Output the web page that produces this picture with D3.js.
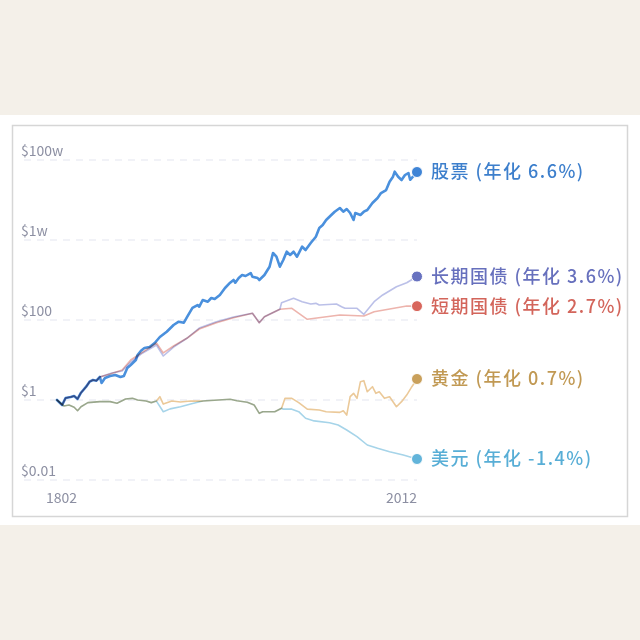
<!DOCTYPE html>
<html><head><meta charset="utf-8">
<script src="https://cdn.jsdelivr.net/npm/d3@7"></script>
<style>html,body{margin:0;padding:0;background:#f4f0e9;}svg{display:block}</style>
</head><body><svg id="c" width="640" height="640"></svg>
<script>
// ---- data ----
const stockYears = [1802,1805,1807,1810,1812,1814,1816,1819,1821,1823,1825,1827,1828,1830,1833,1836,1839,1841,1843,1845,1848,1849,1851,1853,1856,1859,1862,1866,1870,1873,1876,1878,1881,1884,1885,1887,1890,1892,1894,1897,1900,1903,1905,1906,1908,1910,1912,1915,1916,1919,1920,1923,1926,1928,1930,1932,1934,1936,1938,1940,1942,1945,1947,1950,1953,1955,1957,1959,1962,1964,1967,1969,1971,1973,1975,1976,1979,1981,1983,1986,1989,1991,1994,1996,1998,1999,2001,2003,2005,2007,2008,2012];
const stockValues = [1,0.75,1.12,1.19,1.26,1.06,1.52,2.15,2.87,3.16,3.04,3.76,2.66,3.55,3.98,4.22,3.76,3.98,6.31,7.5,10,13.3,17.1,20,21.1,26.6,37.6,51,75,90.7,85.6,121,200,237,215,316,287,355,335,422,631,856,1000,856,1122,1334,1259,1496,1209,1122,1000,1334,2150,4732,3824,2150,3162,5100,4217,5100,3824,6800,5623,8414,12090,19950,23710,31620,42170,51000,63100,51000,59570,47300,31620,47300,42170,51000,56230,84140,112200,149600,177800,286800,382400,510000,382400,316200,421700,473000,320000,501000];

const bondYears = [1802,1805,1807,1810,1812,1814,1816,1819,1821,1823,1825,1827,1834,1840,1845,1852,1860,1864,1870,1878,1885,1895,1905,1916,1920,1923,1932,1933,1940,1945,1950,1953,1955,1965,1968,1970,1977,1981,1987,1992,2000,2006,2012];
const bondValues = [1,0.75,1.12,1.19,1.26,1.06,1.52,2.15,2.87,3.16,3.04,3.76,4.73,5.31,8.9,15,23.7,12.6,21.1,35.5,63,90.7,119,147,85.6,121,185,271,349,287,251,261,237,251,215,196,196,139,287,422,680,856,1224];

const billYears = [1802,1805,1807,1810,1812,1814,1816,1819,1821,1823,1825,1827,1833,1840,1845,1852,1860,1864,1870,1878,1885,1895,1905,1916,1920,1923,1932,1939,1948,1967,1981,1987,2006,2012];
const billValues = [1,0.75,1.12,1.19,1.26,1.06,1.52,2.15,2.87,3.16,3.04,3.76,4.47,5.62,10,15.8,26.6,15,22.4,35.5,59.6,85.6,114,147,85.6,121,185,196,104,133,126,161,224,222];

const goldYears = [1802,1806,1809,1812,1814,1816,1820,1827,1833,1837,1842,1846,1849,1854,1857,1860,1862,1864,1869,1874,1880,1887,1903,1907,1913,1917,1920,1922,1929,1933,1935,1939,1943,1948,1955,1959,1967,1969,1971,1973,1975,1977,1979,1981,1983,1986,1988,1990,1993,1996,2000,2003,2006,2009,2012];
const goldValues = [1,0.71,0.75,0.66,0.54,0.68,0.86,0.91,0.91,0.83,1.06,1.1,1.0,0.94,0.86,0.94,1.21,0.79,0.94,0.89,0.94,0.94,1.04,0.96,0.88,0.75,0.465,0.51,0.51,0.62,1.1,1.1,0.86,0.59,0.56,0.51,0.49,0.54,0.42,1.21,1.47,1.1,2.87,3.04,1.61,2.15,1.47,1.61,1.1,1.21,0.68,0.91,1.33,2.15,3.35];

const dollarYears = [1802,1806,1809,1812,1814,1816,1820,1827,1833,1837,1842,1846,1849,1854,1857,1860,1864,1868,1874,1880,1887,1903,1907,1913,1917,1920,1922,1929,1933,1934,1939,1943,1947,1952,1961,1966,1971,1977,1983,1989,1996,2004,2012];
const dollarValues = [1,0.71,0.75,0.66,0.54,0.68,0.86,0.91,0.91,0.83,1.06,1.1,1.0,0.94,0.86,0.94,0.51,0.60,0.68,0.79,0.94,1.04,0.96,0.88,0.75,0.465,0.51,0.51,0.62,0.59,0.59,0.51,0.35,0.30,0.27,0.237,0.178,0.121,0.075,0.062,0.051,0.042,0.0335];

const seriesNames = ["股票","长期国债","短期国债","黄金","美元"];
const seriesRates = ["6.6%","3.6%","2.7%","0.7%","-1.4%"];
const yTickValues = [0.01,1,100,10000,1000000];
const yTickLabels = ["$0.01","$1","$100","$1w","$100w"];
const xTickYears = [1802,2012];

// ---- styles ----
const lineColors = ["#4a90dd","#aab0e2","#e9a198","#ebc999","#a6d4e9"];
const dotColors  = ["#3f84d6","#6872c0","#d8665c","#c9a05b","#62b4da"];
const textColors = ["#3d7fcc","#6770bd","#d3655b","#c19953","#58aed6"];
const lineWidths = [2.6,1.6,1.6,1.6,1.6];
const lineOpacity = [1,0.8,0.8,1,1];

const svg = d3.select("#c");
svg.append("rect").attr("x",0).attr("y",115).attr("width",640).attr("height",410).attr("fill","#ffffff");
svg.append("rect").attr("x",12.5).attr("y",125.5).attr("width",615).attr("height",391)
  .attr("fill","#ffffff").attr("stroke","#d6d6d6").attr("stroke-width",1.5);

const x = d3.scaleLinear().domain([1802,2012]).range([57,417]);
const y = d3.scaleLog().domain([0.01,1e6]).range([480,160]);

// grid
svg.append("g").selectAll("line").data(yTickValues).join("line")
  .attr("x1",24).attr("x2",417).attr("y1",d=>y(d)).attr("y2",d=>y(d))
  .attr("stroke","#e3e5ef").attr("stroke-width",1.2).attr("stroke-dasharray","7,6");

const tickFont = "'Noto Sans CJK SC','Noto Sans',sans-serif";
svg.append("g").selectAll("text").data(yTickValues).join("text")
  .attr("x",21).attr("y",d=>y(d)-4).attr("fill","#8c8fa2")
  .style("font-family",tickFont).style("font-size","14px")
  .text((d,i)=>yTickLabels[i]);

svg.append("g").selectAll("text").data(xTickYears).join("text")
  .attr("x",(d,i)=> i===0 ? x(d)-11 : x(d))
  .attr("text-anchor",(d,i)=> i===0 ? "start" : "end")
  .attr("y",503).attr("fill","#8c8fa2")
  .style("font-family",tickFont).style("font-size","14px")
  .text(d=>d);

const series = [
  {years:stockYears, values:stockValues},
  {years:bondYears, values:bondValues},
  {years:billYears, values:billValues},
  {years:goldYears, values:goldValues},
  {years:dollarYears, values:dollarValues}
];

const line = d3.line().x(d=>x(d[0])).y(d=>y(d[1]));
const drawOrder = [0,4,3,2,1];
const lg = svg.append("g").style("isolation","isolate");
drawOrder.forEach(i=>{
  const s = series[i];
  const pts = s.years.map((yr,k)=>[yr,s.values[k]]);
  lg.append("path").datum(pts).attr("d",line)
    .attr("fill","none").attr("stroke",lineColors[i]).attr("stroke-width",lineWidths[i])
    .attr("stroke-opacity",lineOpacity[i])
    .attr("stroke-linejoin","round").attr("stroke-linecap","round")
    .style("mix-blend-mode","multiply");
});

series.forEach((s,i)=>{
  const ly = s.years[s.years.length-1], lv = s.values[s.values.length-1];
  svg.append("circle").attr("cx",x(ly)).attr("cy",y(lv)).attr("r",5.5)
    .attr("fill",dotColors[i]).attr("stroke","#fff").attr("stroke-width",1);
  svg.append("text").attr("x",x(ly)+14).attr("y",y(lv)).attr("dy","0.36em")
    .attr("fill",textColors[i]).style("font-family","'Noto Sans CJK SC',sans-serif")
    .style("font-size","18px").style("font-weight","500").style("letter-spacing","1.5px")
    .text(`${seriesNames[i]} (年化 ${seriesRates[i]})`);
});
</script></body></html>
